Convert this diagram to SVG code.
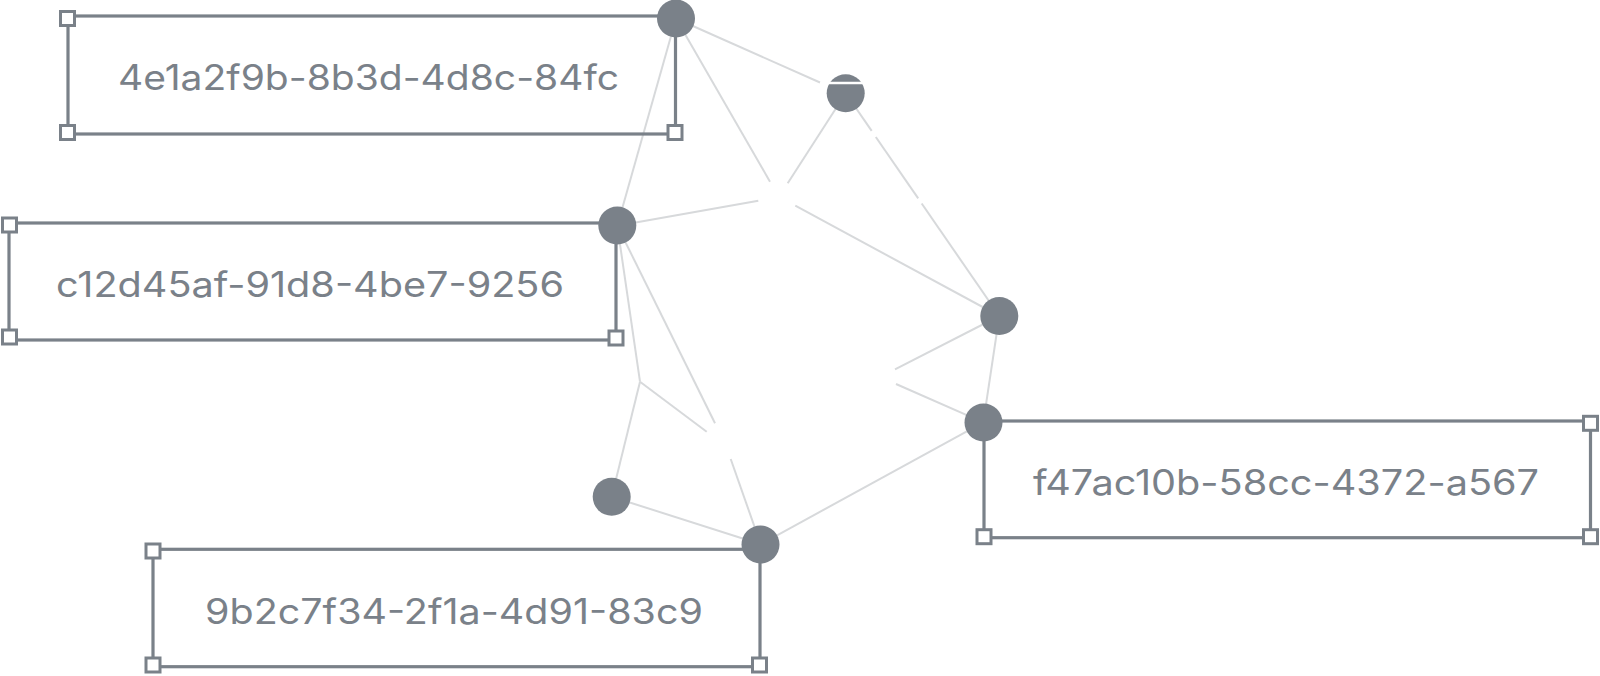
<svg xmlns="http://www.w3.org/2000/svg" width="1600" height="676" viewBox="0 0 1600 676">
<style>
.edge{stroke:#d7d9db;stroke-width:2;fill:none;stroke-linecap:butt}
.frame{fill:none;stroke:#7a8189;stroke-width:3.2}
.handle{fill:#ffffff;stroke:#7a8189;stroke-width:3}
.dot{fill:#7a8189}
.lbl{font-family:Inter,"Liberation Sans",sans-serif;font-size:35px;fill:#7a8189;font-weight:400}
</style>
<rect width="1600" height="676" fill="#ffffff"/>
<g id="connectors">
<line class="edge" x1="676" y1="18.5" x2="820" y2="82.5"/>
<line class="edge" x1="676" y1="18.5" x2="617.3" y2="225.7"/>
<line class="edge" x1="676" y1="18.5" x2="770" y2="181.7"/>
<line class="edge" x1="845.7" y1="93.3" x2="787.7" y2="183.3"/>
<line class="edge" x1="617.3" y1="225.7" x2="758.3" y2="200.7"/>
<line class="edge" x1="795.3" y1="205.7" x2="999.3" y2="316"/>
<line class="edge" x1="845.7" y1="93.3" x2="871.7" y2="130.9"/>
<line class="edge" x1="875.8" y1="137" x2="918.2" y2="198.4"/>
<line class="edge" x1="921.7" y1="203.5" x2="999.3" y2="316"/>
<line class="edge" x1="617.3" y1="225.7" x2="715" y2="423.3"/>
<line class="edge" x1="617.3" y1="225.7" x2="640" y2="381.7"/>
<line class="edge" x1="640" y1="381.7" x2="611.7" y2="496.7"/>
<line class="edge" x1="640" y1="381.7" x2="706.7" y2="431.7"/>
<line class="edge" x1="730.7" y1="459" x2="760.7" y2="544.3"/>
<line class="edge" x1="611.7" y1="496.7" x2="760.7" y2="544.3"/>
<line class="edge" x1="983.3" y1="422.3" x2="760.7" y2="544.3"/>
<line class="edge" x1="999.3" y1="316" x2="983.3" y2="422.3"/>
<line class="edge" x1="999.3" y1="316" x2="895" y2="369.3"/>
<line class="edge" x1="983.3" y1="422.3" x2="896" y2="384"/>
</g>
<g id="node-4e1a2f9b">
<rect class="frame" x="68" y="16" width="607.5" height="118"/>
<rect class="handle" x="60.5" y="11.5" width="14" height="14"/>
<rect class="handle" x="60.5" y="125.5" width="14" height="14"/>
<rect class="handle" x="668" y="125.5" width="14" height="14"/>
<circle class="dot" cx="676" cy="18.5" r="19"/>
<text class="lbl" x="118" y="90" textLength="501" lengthAdjust="spacingAndGlyphs">4e1a2f9b-8b3d-4d8c-84fc</text>
</g>
<g id="node-c12d45af">
<rect class="frame" x="9" y="223" width="607" height="117"/>
<rect class="handle" x="2.5" y="218" width="14" height="14"/>
<rect class="handle" x="2.5" y="330" width="14" height="14"/>
<rect class="handle" x="609" y="331" width="14" height="14"/>
<circle class="dot" cx="617.3" cy="225.5" r="19"/>
<text class="lbl" x="56" y="297" textLength="508" lengthAdjust="spacingAndGlyphs">c12d45af-91d8-4be7-9256</text>
</g>
<g id="node-9b2c7f34">
<rect class="frame" x="153" y="549.3" width="607" height="117.4"/>
<rect class="handle" x="146" y="544" width="14" height="14"/>
<rect class="handle" x="146" y="658" width="14" height="14"/>
<rect class="handle" x="752.5" y="658" width="14" height="14"/>
<circle class="dot" cx="760.5" cy="544.5" r="19"/>
<text class="lbl" x="205" y="624" textLength="498" lengthAdjust="spacingAndGlyphs">9b2c7f34-2f1a-4d91-83c9</text>
</g>
<g id="node-f47ac10b">
<rect class="frame" x="984" y="421" width="606.5" height="116.7"/>
<rect class="handle" x="1583.5" y="416.3" width="14" height="14"/>
<rect class="handle" x="977" y="529.7" width="14" height="14"/>
<rect class="handle" x="1583.5" y="529.7" width="14" height="14"/>
<circle class="dot" cx="983.5" cy="422.5" r="19"/>
<text class="lbl" x="1033" y="495" textLength="506" lengthAdjust="spacingAndGlyphs">f47ac10b-58cc-4372-a567</text>
</g>
<g id="node-n2">
<circle class="dot" cx="845.7" cy="93.3" r="19"/>
<line x1="826" y1="83" x2="863" y2="83" stroke="#ffffff" stroke-width="2.6"/>
</g>
<g id="node-n4">
<circle class="dot" cx="999.3" cy="316" r="19"/>
</g>
<g id="node-n6">
<circle class="dot" cx="611.7" cy="496.7" r="19"/>
</g>
</svg>
